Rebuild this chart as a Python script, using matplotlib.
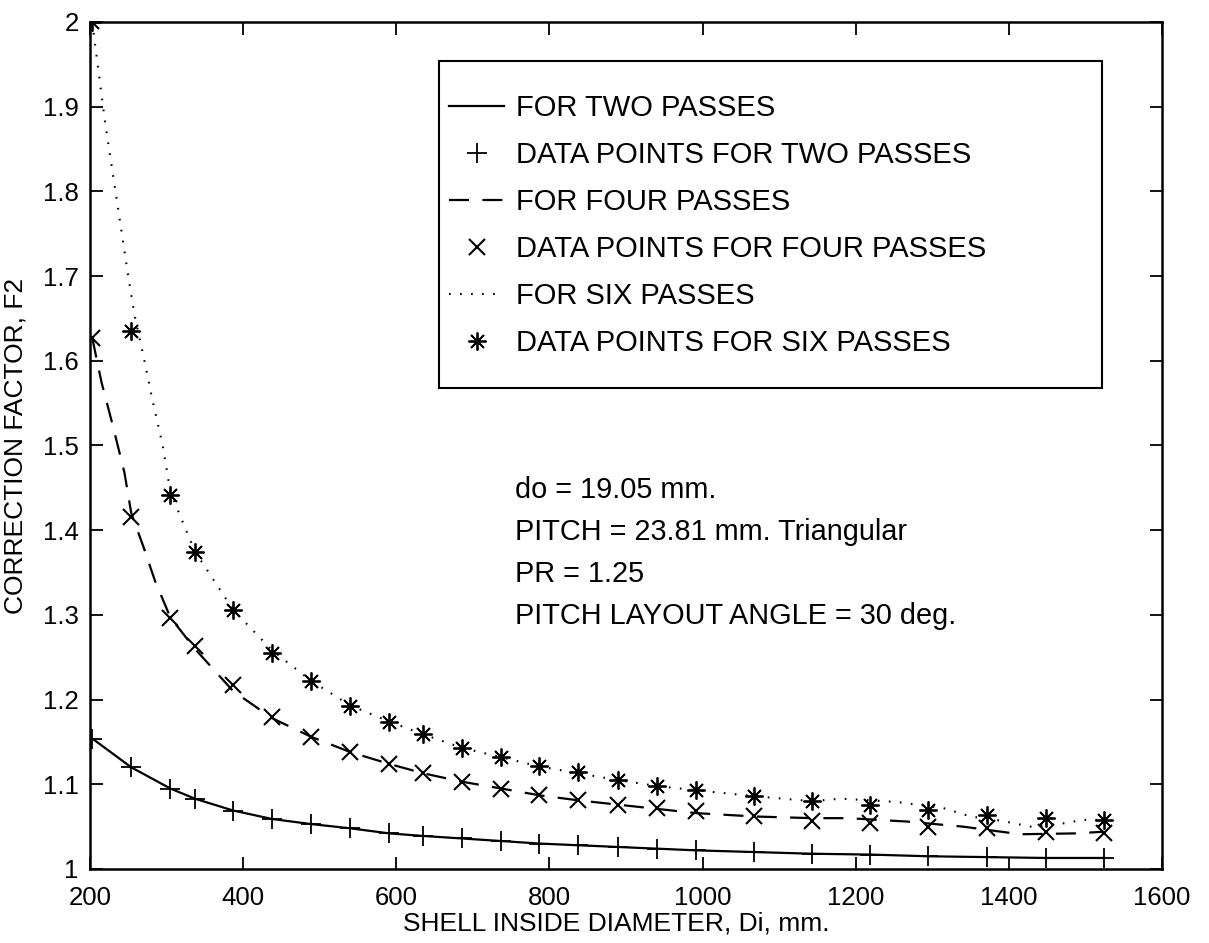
import numpy as np
import matplotlib
matplotlib.use("Agg")
import matplotlib.pyplot as plt
from matplotlib.lines import Line2D
from matplotlib.patches import Rectangle

plt.rcParams['font.family'] = ['Liberation Sans', 'DejaVu Sans']

# diametros de coraza (mm) y factores
diametro = [203, 254, 305, 337, 387, 438, 489, 540, 591, 635, 686, 737,
            787, 838, 889, 940, 991, 1067, 1143, 1219, 1295, 1372, 1448, 1524]
f2_dos = [1.154, 1.120, 1.095, 1.083, 1.069, 1.059, 1.053, 1.048, 1.042, 1.039, 1.036, 1.033,
          1.030, 1.028, 1.026, 1.024, 1.022, 1.020, 1.018, 1.017, 1.015, 1.014, 1.013, 1.013]
f2_cuatro = [1.627, 1.416, 1.296, 1.263, 1.217, 1.180, 1.156, 1.138, 1.124, 1.113, 1.103, 1.095,
             1.087, 1.081, 1.076, 1.072, 1.068, 1.062, 1.057, 1.054, 1.050, 1.048, 1.044, 1.042]
f2_seis = [2.000, 1.635, 1.442, 1.374, 1.306, 1.255, 1.222, 1.193, 1.174, 1.159, 1.143, 1.132,
           1.121, 1.114, 1.105, 1.098, 1.093, 1.086, 1.080, 1.076, 1.070, 1.064, 1.060, 1.058]

# curvas de ajuste
curva_cuatro_x = [203, 215, 230, 245, 254, 270, 285, 305, 337, 387, 438, 489, 540, 591, 635, 686,
                  737, 787, 838, 889, 940, 991, 1067, 1143, 1190, 1267, 1340, 1415, 1487, 1524]
curva_cuatro_y = [1.627, 1.575, 1.523, 1.468, 1.420, 1.380, 1.340, 1.297, 1.260, 1.210, 1.178, 1.156,
                  1.138, 1.124, 1.113, 1.103, 1.095, 1.087, 1.081, 1.076, 1.071, 1.066, 1.062, 1.060,
                  1.060, 1.056, 1.050, 1.041, 1.042, 1.044]
curva_seis_x = [203, 210, 220, 230, 240, 250, 258, 270, 282, 295, 305, 337, 387, 438, 489, 540, 591,
                635, 686, 737, 787, 838, 889, 940, 991, 1067, 1143, 1180, 1220, 1255, 1314, 1350,
                1390, 1428, 1460, 1497, 1524]
curva_seis_y = [2.000, 1.950, 1.880, 1.820, 1.760, 1.700, 1.655, 1.605, 1.552, 1.500, 1.445, 1.375,
                1.306, 1.258, 1.222, 1.193, 1.174, 1.159, 1.143, 1.132, 1.121, 1.113, 1.105, 1.098,
                1.093, 1.086, 1.080, 1.083, 1.081, 1.079, 1.072, 1.062, 1.057, 1.050, 1.052, 1.058,
                1.058]

etiquetas = ["FOR TWO PASSES", "DATA POINTS FOR TWO PASSES", "FOR FOUR PASSES",
             "DATA POINTS FOR FOUR PASSES", "FOR SIX PASSES", "DATA POINTS FOR SIX PASSES"]
notas = ["do = 19.05 mm.", "PITCH = 23.81 mm. Triangular", "PR = 1.25",
         "PITCH LAYOUT ANGLE = 30 deg."]
notas_y = [1.448, 1.398, 1.348, 1.299]
xticks = [200, 400, 600, 800, 1000, 1200, 1400, 1600]
yticks = [1, 1.1, 1.2, 1.3, 1.4, 1.5, 1.6, 1.7, 1.8, 1.9, 2]
ytick_labels = ["1", "1.1", "1.2", "1.3", "1.4", "1.5", "1.6", "1.7", "1.8", "1.9", "2"]

#########################################################
#####   Grafica #####
#########################################################
fig = plt.figure(figsize=(12.09, 9.43), dpi=100)
ax = fig.add_axes([0.0744, 0.0785, 0.8867, 0.8982])

asterisco = (8, 2, 0)
ax.plot(diametro, f2_dos, color="black", linewidth=1.6)
ax.plot(diametro, f2_dos, linestyle="none", marker="+", markersize=14, mew=1.3, color="black")
ax.plot(curva_cuatro_x, curva_cuatro_y, color="black", linewidth=1.6, dashes=(9, 6))
ax.plot(diametro, f2_cuatro, linestyle="none", marker="x", markersize=11, mew=1.5, color="black")
ax.plot(curva_seis_x, curva_seis_y, color="black", linewidth=1.5, dashes=(0.8, 4.5))
ax.plot(diametro, f2_seis, linestyle="none", marker=asterisco, markersize=13, mew=1.3, color="black")

ax.set_xlim(200, 1600)
ax.set_ylim(1, 2)
ax.set_xticks(xticks)
ax.set_yticks(yticks)
ax.set_yticklabels(ytick_labels)
ax.tick_params(direction="in", length=9, width=1.3, labelsize=18.5, top=True, right=True, pad=8)
ax.tick_params(axis="x", pad=12)
for s in ax.spines.values():
    s.set_linewidth(1.8)

ax.set_xlabel("SHELL INSIDE DIAMETER, Di, mm.", fontsize=19)
ax.set_ylabel("CORRECTION FACTOR, F2", fontsize=19)
ax.xaxis.set_label_coords(0.491, -0.05)
ax.yaxis.set_label_coords(-0.058, 0.5)

for t, yy in zip(notas, notas_y):
    ax.text(755, yy, t, fontsize=20.8, ha="left", va="center")

# leyenda
ax.add_patch(Rectangle((0.3256, 0.568), 0.6185, 0.386, transform=ax.transAxes,
                       fill=False, edgecolor="black", linewidth=1.5, zorder=5))
manijas = [Line2D([], [], color="black", linewidth=1.6),
           Line2D([], [], linestyle="none", marker="+", markersize=14, mew=1.3, color="black"),
           Line2D([], [], color="black", linewidth=1.6, dashes=(9, 6)),
           Line2D([], [], linestyle="none", marker="x", markersize=11, mew=1.5, color="black"),
           Line2D([], [], color="black", linewidth=1.5, dashes=(0.8, 4.5)),
           Line2D([], [], linestyle="none", marker=asterisco, markersize=13, mew=1.3, color="black")]
ax.legend(manijas, etiquetas, loc="upper left", bbox_to_anchor=(0.335, 0.915),
          frameon=False, fontsize=21, borderpad=0, borderaxespad=0, handlelength=1.9,
          handletextpad=0.38, labelspacing=0.65)

plt.savefig("out.png", dpi=100)
